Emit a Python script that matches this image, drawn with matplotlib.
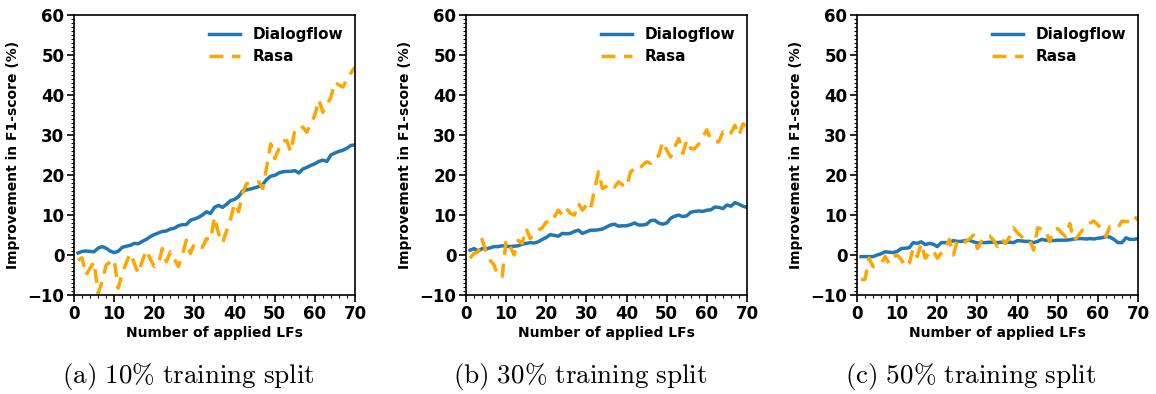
import matplotlib
matplotlib.use("Agg")
import matplotlib.pyplot as plt
from matplotlib.ticker import MultipleLocator

plt.rcParams['mathtext.fontset'] = 'cm'

lfs = list(range(1, 71))

df_10 = [0.5, 0.9, 1.0, 0.9, 0.8, 1.7, 2.1, 1.7, 1.0, 0.6,
         0.9, 1.9, 2.2, 2.4, 2.9, 2.8, 3.4, 3.9, 4.6, 5.1,
         5.5, 5.9, 6.0, 6.5, 6.7, 7.3, 7.6, 7.6, 8.7, 9.0,
         9.4, 10.0, 10.8, 10.4, 11.9, 12.4, 11.9, 12.7, 13.6, 13.9,
         14.6, 16.0, 16.3, 16.5, 16.8, 17.1, 17.6, 18.9, 19.7, 19.9,
         20.5, 20.8, 20.9, 20.9, 21.1, 20.5, 21.5, 21.9, 22.4, 22.8,
         23.4, 23.7, 23.4, 25.0, 25.5, 25.9, 26.2, 26.7, 27.4, 27.5]
rasa_10 = [-1.3, -0.7, -5.0, -3.3, -1.7, -9.6, -6.7, -2.5, -1.8, -1.1,
           -8.3, -4.6, -2.0, 0.4, -2.0, -4.6, -1.5, 1.2, -1.0, -2.9,
           -2.3, 1.6, -1.7, 0.8, -1.0, -2.9, 0.0, 3.7, 0.4, 2.9,
           2.2, 1.9, 4.1, 3.7, 9.5, 5.4, 3.0, 6.0, 9.0, 12.9,
           10.8, 15.5, 17.9, 17.7, 18.0, 18.3, 16.6, 22.0, 27.8, 24.1,
           26.5, 28.6, 28.6, 25.8, 31.2, 31.0, 32.0, 30.7, 33.0, 34.9,
           38.8, 35.7, 37.5, 39.5, 43.2, 42.5, 42.0, 44.0, 45.5, 47.0]

df_30 = [1.2, 1.6, 1.0, 1.6, 1.5, 1.8, 2.1, 2.1, 2.3, 2.2,
         2.1, 2.2, 2.3, 2.7, 2.9, 3.1, 3.0, 3.3, 3.9, 4.4,
         5.1, 4.9, 4.7, 5.4, 5.3, 5.4, 5.9, 6.2, 5.4, 5.8,
         6.2, 6.2, 6.3, 6.5, 7.0, 7.5, 7.7, 7.2, 7.3, 7.3,
         7.6, 8.0, 7.5, 7.5, 7.7, 8.6, 8.7, 8.0, 7.7, 8.0,
         9.2, 9.7, 10.0, 9.6, 9.8, 10.7, 10.9, 11.0, 10.9, 11.2,
         11.3, 12.0, 11.9, 11.6, 12.5, 12.2, 13.1, 12.7, 12.2, 11.9]
rasa_30 = [-0.8, 0.4, 0.8, 3.9, 0.8, -1.3, -2.5, -5.4, -5.4, 3.7,
           2.1, 0.0, 3.7, 2.9, 6.6, 4.1, 5.5, 6.2, 6.8, 8.3,
           8.0, 9.5, 11.2, 10.0, 11.6, 10.4, 10.0, 12.9, 11.2, 12.5,
           11.4, 16.2, 20.8, 16.6, 17.2, 17.9, 17.0, 18.3, 17.5, 17.0,
           20.8, 21.6, 21.2, 22.5, 23.3, 22.9, 24.5, 24.8, 28.3, 26.2,
           24.5, 27.0, 29.1, 25.4, 28.7, 26.6, 26.6, 27.8, 29.5, 31.3,
           28.7, 28.3, 28.3, 30.8, 29.9, 30.5, 32.4, 29.9, 32.8, 32.0]

df_50 = [-0.4, -0.4, -0.4, -0.4, 0.0, 0.3, 0.8, 0.7, 0.6, 0.9,
         1.6, 1.7, 1.8, 3.1, 2.9, 3.3, 2.6, 2.9, 2.7, 2.1,
         3.1, 3.1, 3.1, 3.6, 3.4, 3.4, 3.6, 3.7, 3.3, 3.0,
         3.1, 3.1, 3.2, 3.2, 3.1, 3.2, 3.1, 3.2, 3.1, 3.6,
         3.5, 3.4, 3.4, 3.1, 3.4, 3.9, 3.7, 3.6, 3.6, 3.7,
         3.7, 3.7, 3.8, 4.0, 4.1, 4.1, 4.0, 4.1, 4.0, 4.2,
         4.3, 4.6, 4.5, 3.9, 3.1, 3.1, 4.3, 3.9, 3.9, 4.1]
rasa_50 = [-6.1, -6.1, -0.8, -2.9, -2.5, -2.1, -0.4, -2.1, -0.5, 0.0,
           -1.1, -2.9, -2.1, 1.6, -0.4, 2.9, -0.8, 0.5, 1.2, -0.8,
           0.5, 1.6, 3.9, 0.0, 3.7, 3.0, 3.3, 4.0, 5.0, 1.6,
           3.5, 4.6, 4.8, 3.7, 2.1, 3.9, 2.9, 4.5, 6.8, 5.5,
           4.6, 3.7, 3.7, 1.2, 6.8, 6.5, 6.2, 3.3, 6.2, 6.6,
           5.5, 4.6, 7.9, 3.7, 4.6, 6.0, 7.5, 8.0, 8.5, 7.5,
           6.6, 4.6, 7.1, 7.0, 6.8, 8.5, 8.4, 8.3, 9.7, 8.7]

captions = [r'$\mathrm{(a)\ 10\%\ training\ split}$',
            r'$\mathrm{(b)\ 30\%\ training\ split}$',
            r'$\mathrm{(c)\ 50\%\ training\ split}$']
panels = [(df_10, rasa_10), (df_30, rasa_30), (df_50, rasa_50)]

fig = plt.figure(figsize=(11.56, 3.94), dpi=100)
lefts = [74 / 1156, 466 / 1156, 857 / 1156]
w = 281 / 1156
b = 1 - 295 / 394
h = 280 / 394

for i, ((dfv, rv), cap) in enumerate(zip(panels, captions)):
    ax = fig.add_axes([lefts[i], b, w, h])
    ax.plot(lfs, dfv, color='#1f77b4', lw=2.5, label='Dialogflow')
    ax.plot(lfs, rv, color='orange', lw=2.5, ls=(0, (4, 2.5)), label='Rasa')
    ax.set_xlim(0, 70)
    ax.set_ylim(-10, 60)
    ax.xaxis.set_major_locator(MultipleLocator(10))
    ax.xaxis.set_minor_locator(MultipleLocator(2))
    ax.yaxis.set_major_locator(MultipleLocator(10))
    ax.yaxis.set_minor_locator(MultipleLocator(1))
    ax.tick_params(which='major', direction='out', length=5, width=1.2, labelsize=12, pad=2)
    ax.tick_params(which='minor', direction='out', length=2.5, width=0.8)
    for lab in ax.get_xticklabels() + ax.get_yticklabels():
        lab.set_fontweight('bold')
    for sp in ax.spines.values():
        sp.set_linewidth(1.2)
    ax.set_xlabel('Number of applied LFs', fontsize=10, fontweight='bold', labelpad=2)
    ax.set_ylabel('Improvement in F1-score (%)', fontsize=10, fontweight='bold', labelpad=5)
    ax.legend(loc='upper right', frameon=False, prop={'weight': 'bold', 'size': 11},
              handlelength=2.0, borderaxespad=0.4, labelspacing=0.45)
    fig.text(lefts[i] + w / 2 - 0.0228, 1 - 377 / 394, cap, ha='center', va='center', fontsize=19.5)

fig.savefig('out.png', dpi=100)
